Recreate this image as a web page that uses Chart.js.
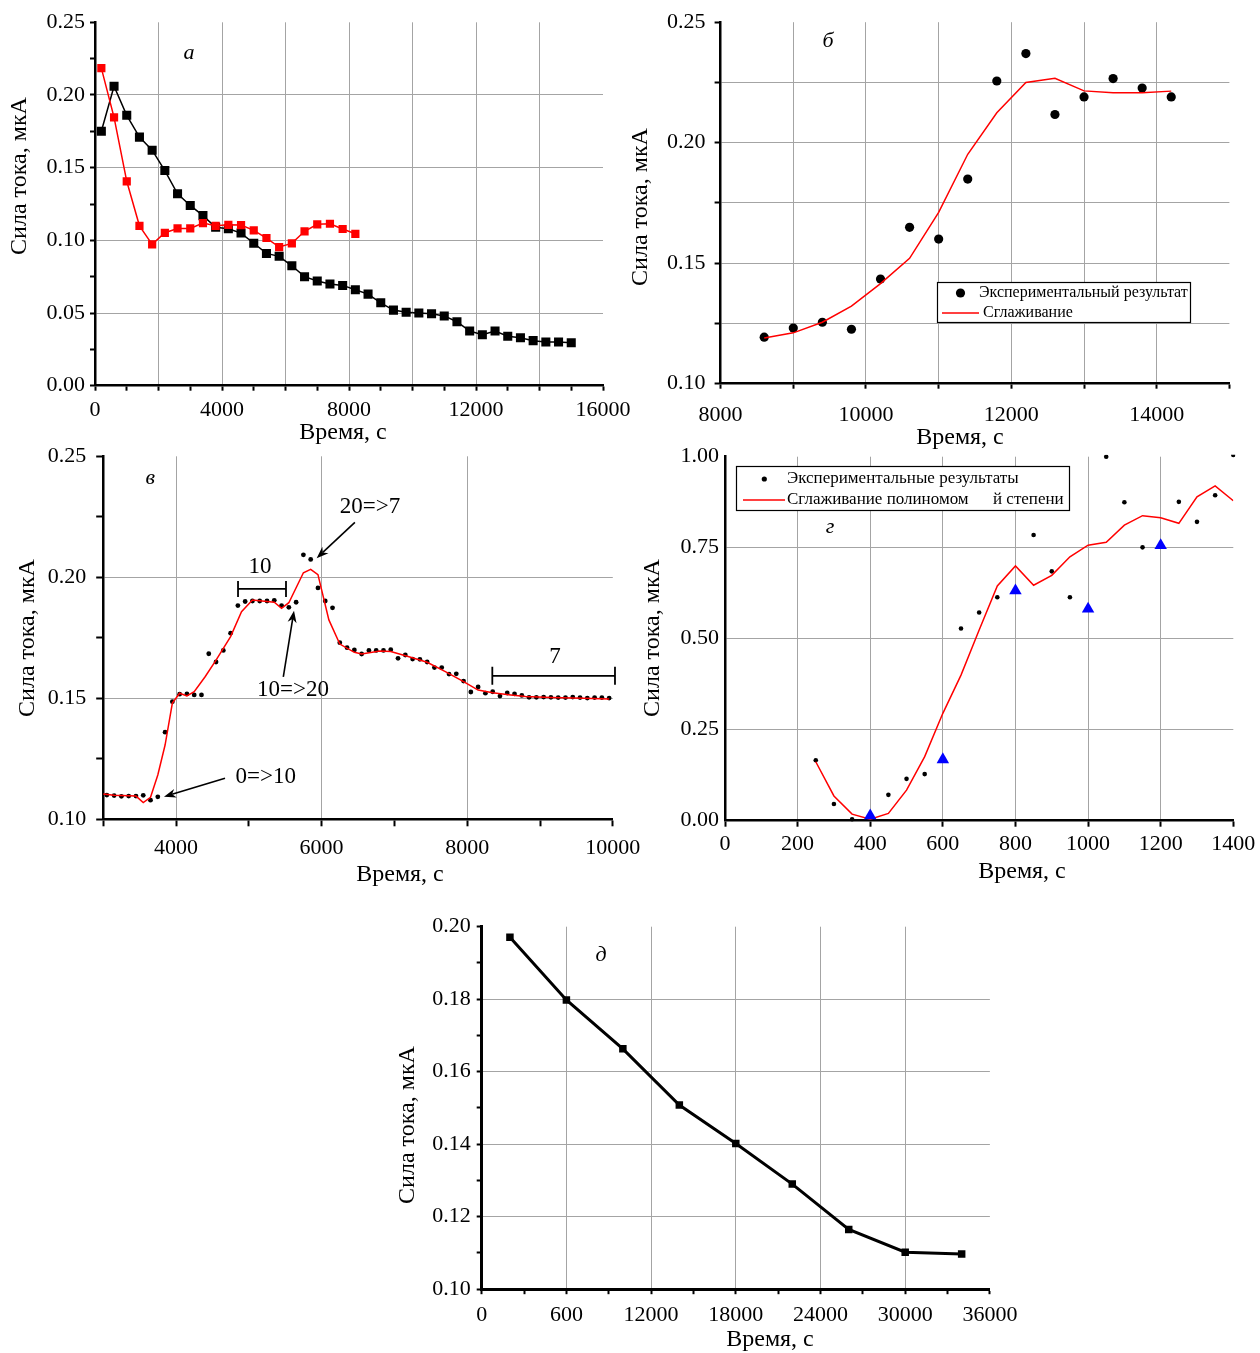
<!DOCTYPE html>
<html>
<head>
<meta charset="utf-8">
<script src="https://cdn.jsdelivr.net/npm/chart.js@4.4.1/dist/chart.umd.min.js"></script>
<style>
  html, body { margin: 0; padding: 0; background: #fff; }
  #page { position: relative; width: 1260px; height: 1353px; }
  #page canvas { position: absolute; left: 0; top: 0; }
</style>
</head>
<body>
<div id="page">
  <canvas id="chA" width="1260" height="1353"></canvas>
  <canvas id="chB" width="1260" height="1353"></canvas>
  <canvas id="chV" width="1260" height="1353"></canvas>
  <canvas id="chG" width="1260" height="1353"></canvas>
  <canvas id="chD" width="1260" height="1353"></canvas>
</div>
<script>
// ---- panel а ----
var aTime = [200, 600, 1000, 1400, 1800, 2200, 2600, 3000, 3400, 3800, 4200, 4600, 5000, 5400, 5800, 6200, 6600, 7000, 7400,
             7800, 8200, 8600, 9000, 9400, 9800, 10200, 10600, 11000, 11400, 11800, 12200, 12600, 13000, 13400, 13800, 14200, 14600, 15000];
var aBlack = [0.175, 0.206, 0.186, 0.171, 0.162, 0.148, 0.132, 0.124, 0.117, 0.109, 0.108, 0.105, 0.098, 0.091, 0.089, 0.0825, 0.075, 0.072, 0.070,
              0.069, 0.066, 0.063, 0.057, 0.052, 0.0505, 0.050, 0.0495, 0.048, 0.044, 0.0376, 0.035, 0.0376, 0.034, 0.033, 0.031, 0.030, 0.030, 0.0296];
var aRedTime = [200, 600, 1000, 1400, 1800, 2200, 2600, 3000, 3400, 3800, 4200, 4600, 5000, 5400, 5800, 6200, 6600, 7000, 7400, 7800, 8200];
var aRed = [0.2185, 0.1846, 0.1406, 0.110, 0.0972, 0.1052, 0.1082, 0.1082, 0.1119, 0.110, 0.1107, 0.1105, 0.1069, 0.1016, 0.0954, 0.0979,
            0.1062, 0.111, 0.1114, 0.1078, 0.1045];

// ---- panel б ----
var bTime = [8600, 9000, 9400, 9800, 10200, 10600, 11000, 11400, 11800, 12200, 12600, 13000, 13400, 13800, 14200];
var bExp = [0.1193, 0.1231, 0.1255, 0.1226, 0.1434, 0.1649, 0.160, 0.1849, 0.2256, 0.237, 0.2117, 0.219, 0.2266, 0.2227, 0.219];
var bSmooth = [0.119, 0.1211, 0.1255, 0.1322, 0.1415, 0.152, 0.1711, 0.1952, 0.2124, 0.2250, 0.2267, 0.2215, 0.2207, 0.2207, 0.2214];

// ---- panel в ----
var vTime = [3050, 3150, 3250, 3350, 3450, 3550, 3650, 3750, 3850, 3950, 4050, 4150, 4250, 4350, 4450, 4550, 4650, 4750, 4850, 4950,
             5050, 5150, 5250, 5350, 5450, 5550, 5650, 5750, 5850, 5950, 6050, 6150, 6250, 6350, 6450, 6550, 6650, 6750, 6850, 6950,
             7050, 7150, 7250, 7350, 7450, 7550, 7650, 7750, 7850, 7950, 8050, 8150, 8250, 8350, 8450, 8550, 8650, 8750, 8850, 8950,
             9050, 9150, 9250, 9350, 9450, 9550, 9650, 9750, 9850, 9950];
var vExp = [0.110, 0.1098, 0.1095, 0.1096, 0.1096, 0.1099, 0.1079, 0.1093, 0.136, 0.1486, 0.1517, 0.1518, 0.1514, 0.1514, 0.1684, 0.165, 0.1698, 0.1769, 0.1883, 0.190,
            0.1902, 0.1902, 0.1902, 0.1905, 0.1883, 0.1876, 0.1897, 0.2093, 0.2074, 0.1956, 0.1902, 0.1874, 0.173, 0.1709, 0.170, 0.1683, 0.1698, 0.1698, 0.1698, 0.1701,
            0.1665, 0.1679, 0.1662, 0.1661, 0.165, 0.1627, 0.1627, 0.160, 0.1601, 0.1571, 0.1526, 0.1547, 0.1521, 0.1527, 0.1509, 0.1522, 0.1518, 0.1512, 0.1504, 0.1504,
            0.1505, 0.1504, 0.1503, 0.1503, 0.1505, 0.1503, 0.1501, 0.1503, 0.1503, 0.1501];
var vSmoothTime = [3000, 3150, 3450, 3550, 3650, 3750, 3850, 3950, 4050, 4150, 4250, 4400, 4550, 4750, 4900, 5050, 5350, 5450, 5550, 5750,
                   5850, 5950, 6100, 6250, 6450, 6550, 6800, 6950, 7200, 7450, 7700, 7950, 8150, 8350, 8600, 8800, 9150, 9600, 9950];
var vSmooth = [0.1105, 0.1099, 0.1096, 0.1069, 0.1091, 0.1183, 0.1307, 0.148, 0.1521, 0.151, 0.1527, 0.1589, 0.1658, 0.1755, 0.1858, 0.1906, 0.1897, 0.1872, 0.1895, 0.2019,
               0.2033, 0.2011, 0.1824, 0.1724, 0.169, 0.1683, 0.1695, 0.1693, 0.1672, 0.1649, 0.161, 0.1569, 0.1534, 0.1523, 0.1514, 0.1507, 0.1503, 0.150, 0.1497];

// ---- panel г ----
var gDotTime = [250, 300, 350, 450, 500, 550, 650, 700, 750, 850, 900, 950, 1050, 1100, 1150, 1250, 1300, 1350, 1400];
var gDot = [0.166, 0.046, 0.004, 0.071, 0.115, 0.128, 0.528, 0.572, 0.614, 0.785, 0.685, 0.614, 1.0, 0.875, 0.751, 0.876, 0.821, 0.894, 1.005];
var gTriTime = [400, 600, 800, 1000, 1200];
var gTri = [0.014, 0.168, 0.632, 0.582, 0.756];
var gSmoothTime = [250, 300, 350, 400, 450, 500, 550, 600, 650, 700, 750, 800, 850, 900, 950, 1000, 1050, 1100, 1150, 1200, 1250, 1300, 1350, 1400];
var gSmooth = [0.162, 0.068, 0.018, 0.004, 0.020, 0.084, 0.176, 0.295, 0.40, 0.524, 0.645, 0.70, 0.647, 0.674, 0.725, 0.757, 0.765, 0.812, 0.838, 0.832,
               0.817, 0.89, 0.92, 0.879];

// ---- panel д ----
var dTime = [2000, 6000, 10000, 14000, 18000, 22000, 26000, 30000, 34000];
var dVal = [0.1971, 0.1798, 0.1663, 0.1508, 0.1402, 0.129, 0.1165, 0.1102, 0.1097];

var FONT = '"Liberation Serif", "Times New Roman", serif';
var GRID = '#a4a4a4';
var Y_TITLE = 'Сила тока, мкА';
var X_TITLE = 'Время, с';

function pts(xs, ys){ return xs.map(function(x, i){ return { x: x, y: ys[i] }; }); }
function on(v, step){ var q = v / step; return Math.abs(q - Math.round(q)) < 1e-6; }
function same(a, b){ return Math.abs(a - b) < 1e-9; }

function axis(o){
  return {
    type: 'linear', min: o.min, max: o.max,
    ticks: {
      stepSize: o.step, autoSkip: false, maxRotation: 0, padding: o.pad, color: '#000',
      font: { family: FONT, size: 22 },
      callback: function(v){
        if (!on(v, o.labelStep)) return '';
        return o.fmt ? o.fmt(v) : String(v);
      }
    },
    grid: {
      color: function(c){
        var v = c.tick ? c.tick.value : undefined;
        if (v === undefined || same(v, o.max) || same(v, o.min) || !on(v, o.gridStep)) return 'rgba(0,0,0,0)';
        return GRID;
      },
      lineWidth: 1, tickColor: '#000', tickWidth: 2, tickLength: o.tickLen, drawTicks: o.tickLen > 0
    },
    border: { color: '#000', width: o.bw || 2.5 },
    afterFit: function(s){ if (s.isHorizontal()) s.height = 40; else s.width = 60; }
  };
}

function fix2(v){ return v.toFixed(2); }

function arrow(ctx, x1, y1, x2, y2){
  var a = Math.atan2(y2 - y1, x2 - x1), L = 12, W = 4.5;
  ctx.beginPath();
  ctx.moveTo(x1, y1);
  ctx.lineTo(x2 - Math.cos(a) * L * 0.7, y2 - Math.sin(a) * L * 0.7);
  ctx.lineWidth = 1.6; ctx.strokeStyle = '#000'; ctx.stroke();
  ctx.beginPath();
  ctx.moveTo(x2, y2);
  ctx.lineTo(x2 - Math.cos(a) * L + Math.sin(a) * W, y2 - Math.sin(a) * L - Math.cos(a) * W);
  ctx.lineTo(x2 - Math.cos(a) * L * 0.7, y2 - Math.sin(a) * L * 0.7);
  ctx.lineTo(x2 - Math.cos(a) * L - Math.sin(a) * W, y2 - Math.sin(a) * L + Math.cos(a) * W);
  ctx.closePath(); ctx.fillStyle = '#000'; ctx.fill();
}

// draws titles, panel letters, notes and legends
function notes(items){
  return {
    id: 'notes',
    afterDatasetsDraw: function(chart){
      var ctx = chart.ctx, xs = chart.scales.x, ys = chart.scales.y;
      function X(v){ return xs.getPixelForValue(v); }
      function Y(v){ return ys.getPixelForValue(v); }
      ctx.save();
      items.forEach(function(it){
        ctx.fillStyle = '#000'; ctx.strokeStyle = '#000';
        if (it.t === 'text' || it.t === 'ytitle' || it.t === 'xtitle' || it.t === 'letter'){
          var px = it.data ? X(it.x) : it.x, py = it.data ? Y(it.y) : it.y;
          ctx.font = (it.t === 'letter' ? 'italic ' : '') + (it.size || 22) + 'px ' + FONT;
          ctx.textAlign = it.align || 'center'; ctx.textBaseline = 'middle';
          if (it.t === 'ytitle'){
            ctx.save(); ctx.translate(px, py); ctx.rotate(-Math.PI / 2);
            ctx.fillText(it.s, 0, 0); ctx.restore();
          } else ctx.fillText(it.s, px, py);
        } else if (it.t === 'arrow'){
          arrow(ctx, X(it.x1), Y(it.y1), X(it.x2), Y(it.y2));
        } else if (it.t === 'bracket'){
          var x1 = X(it.x1), x2 = X(it.x2), y = Y(it.y);
          ctx.lineWidth = 1.8; ctx.beginPath();
          ctx.moveTo(x1, y); ctx.lineTo(x2, y);
          ctx.moveTo(x1, y - it.h); ctx.lineTo(x1, y + it.h);
          ctx.moveTo(x2, y - it.h); ctx.lineTo(x2, y + it.h);
          ctx.stroke();
        } else if (it.t === 'legend'){
          ctx.fillStyle = '#fff'; ctx.fillRect(it.box[0], it.box[1], it.box[2], it.box[3]);
          ctx.lineWidth = 1.2; ctx.strokeStyle = '#000';
          ctx.strokeRect(it.box[0] + 0.5, it.box[1] + 0.5, it.box[2], it.box[3]);
          ctx.font = it.size + 'px ' + FONT; ctx.textAlign = 'left'; ctx.textBaseline = 'middle';
          it.rows.forEach(function(r){
            if (r.kind === 'dot'){
              ctx.fillStyle = '#000'; ctx.beginPath(); ctx.arc(r.mx, r.y, r.r, 0, Math.PI * 2); ctx.fill();
            } else {
              ctx.strokeStyle = '#ff0000'; ctx.lineWidth = 1.6; ctx.beginPath();
              ctx.moveTo(r.mx, r.y); ctx.lineTo(r.mx2, r.y); ctx.stroke();
            }
            ctx.fillStyle = '#000';
            r.texts.forEach(function(tx){ ctx.fillText(tx[0], tx[1], r.y); });
          });
        }
      });
      ctx.restore();
    }
  };
}

function layout(L, T, R, B){
  return { padding: { left: L - 60, top: T, right: 1260 - R, bottom: 1353 - B - 40 } };
}

function make(id, area, xAx, yAx, datasets, items){
  return new Chart(document.getElementById(id), {
    type: 'scatter',
    data: { datasets: datasets },
    options: {
      responsive: false, animation: false, devicePixelRatio: 1, events: [],
      layout: layout(area[0], area[1], area[2], area[3]),
      scales: { x: axis(xAx), y: axis(yAx) },
      plugins: { legend: { display: false }, tooltip: { enabled: false } }
    },
    plugins: [notes(items)]
  });
}

// а
make('chA', [95, 22.3, 603, 385.7],
  { min: 0, max: 16000, step: 1000, gridStep: 2000, labelStep: 4000, tickLen: 5, pad: 6 },
  { min: 0, max: 0.25, step: 0.025, gridStep: 0.05, labelStep: 0.05, fmt: fix2, tickLen: 5, pad: 5 },
  [
    { data: pts(aRedTime, aRed), showLine: true, borderColor: '#ff0000', backgroundColor: '#ff0000', borderWidth: 1.5,
      pointStyle: 'rect', pointRadius: 5.8, pointBorderWidth: 0 },
    { data: pts(aTime, aBlack), showLine: true, borderColor: '#000', backgroundColor: '#000', borderWidth: 1.5,
      pointStyle: 'rect', pointRadius: 6.4, pointBorderWidth: 0 }
  ],
  [
    { t: 'ytitle', s: Y_TITLE, x: 20, y: 176, size: 24 },
    { t: 'xtitle', s: X_TITLE, x: 343, y: 433, size: 24 },
    { t: 'letter', s: 'а', data: true, x: 2961, y: 0.229 }
  ]);

// б
make('chB', [720.6, 20.7, 1229.4, 383.7],
  { min: 8000, max: 15000, step: 1000, gridStep: 1000, labelStep: 2000, tickLen: 5, pad: 13 },
  { min: 0.10, max: 0.25, step: 0.025, gridStep: 0.025, labelStep: 0.05, fmt: fix2, tickLen: 6, pad: 9 },
  [
    { data: pts(bTime, bSmooth), showLine: true, borderColor: '#ff0000', borderWidth: 1.5, pointRadius: 0 },
    { data: pts(bTime, bExp), showLine: false, backgroundColor: '#000', pointStyle: 'circle', pointRadius: 4.6, pointBorderWidth: 0 }
  ],
  [
    { t: 'ytitle', s: Y_TITLE, x: 641, y: 207, size: 24 },
    { t: 'xtitle', s: X_TITLE, x: 960, y: 438, size: 24 },
    { t: 'letter', s: 'б', data: true, x: 9477, y: 0.242 },
    { t: 'legend', box: [937, 282, 253, 40], size: 16, rows: [
      { kind: 'dot', mx: 960.5, r: 4.6, y: 293, texts: [['Экспериментальный результат', 979]] },
      { kind: 'line', mx: 942, mx2: 979, y: 313, texts: [['Сглаживание', 983]] }
    ] }
  ]);

// в
make('chV', [103.2, 456.3, 612.8, 819.3],
  { min: 3000, max: 10000, step: 1000, gridStep: 2000, labelStep: 2000, tickLen: 7, pad: 9 },
  { min: 0.10, max: 0.25, step: 0.025, gridStep: 0.05, labelStep: 0.05, fmt: fix2, tickLen: 7, pad: 10 },
  [
    { data: pts(vSmoothTime, vSmooth), showLine: true, borderColor: '#ff0000', borderWidth: 1.5, pointRadius: 0 },
    { data: pts(vTime, vExp), showLine: false, backgroundColor: '#000', pointStyle: 'circle', pointRadius: 2.4, pointBorderWidth: 0 }
  ],
  [
    { t: 'ytitle', s: Y_TITLE, x: 28, y: 638, size: 24 },
    { t: 'xtitle', s: X_TITLE, x: 400, y: 875, size: 24 },
    { t: 'letter', s: 'в', data: true, x: 3645, y: 0.241 },
    { t: 'bracket', x1: 4852, x2: 5511, y: 0.1952, h: 8 },
    { t: 'text', s: '10', data: true, x: 5154, y: 0.2043, size: 23 },
    { t: 'text', s: '20=>7', data: true, x: 6665, y: 0.229, size: 23 },
    { t: 'arrow', x1: 6457, y1: 0.2227, x2: 5932, y2: 0.2079 },
    { t: 'text', s: '10=>20', data: true, x: 5607, y: 0.1535, size: 23 },
    { t: 'arrow', x1: 5474, y1: 0.1589, x2: 5621, y2: 0.1862 },
    { t: 'text', s: '0=>10', data: true, x: 5233, y: 0.1174, size: 23 },
    { t: 'arrow', x1: 4673, y1: 0.117, x2: 3835, y2: 0.1093 },
    { t: 'text', s: '7', data: true, x: 9206, y: 0.1672, size: 23 },
    { t: 'bracket', x1: 8345, x2: 10030, y: 0.1593, h: 9 }
  ]);

// г
make('chG', [725, 456.7, 1233.3, 820.7],
  { min: 0, max: 1400, step: 200, gridStep: 200, labelStep: 200, tickLen: 6, pad: 4 },
  { min: 0, max: 1, step: 0.25, gridStep: 0.25, labelStep: 0.25, fmt: fix2, tickLen: 0, pad: 6 },
  [
    { data: pts(gTriTime, gTri), showLine: false, backgroundColor: '#0000ff', pointStyle: 'triangle', pointRadius: 7.2, pointBorderWidth: 0 },
    { data: pts(gSmoothTime, gSmooth), showLine: true, borderColor: '#ff0000', borderWidth: 1.5, pointRadius: 0 },
    { data: pts(gDotTime, gDot), showLine: false, backgroundColor: '#000', pointStyle: 'circle', pointRadius: 2.3, pointBorderWidth: 0, clip: 2 }
  ],
  [
    { t: 'ytitle', s: Y_TITLE, x: 653, y: 638, size: 24 },
    { t: 'xtitle', s: X_TITLE, x: 1022, y: 872, size: 24 },
    { t: 'letter', s: 'г', data: true, x: 289, y: 0.807 },
    { t: 'legend', box: [736, 466, 333, 44], size: 17, rows: [
      { kind: 'dot', mx: 764.3, r: 2.6, y: 479, texts: [['Экспериментальные результаты', 787]] },
      { kind: 'line', mx: 743, mx2: 785, y: 500, texts: [['Сглаживание полиномом', 787], ['й степени', 993]] }
    ] }
  ]);

// д
make('chD', [481.7, 926.7, 989.9, 1289.2],
  { min: 0, max: 36000, step: 3000, gridStep: 6000, labelStep: 6000, tickLen: 5, pad: 8, bw: 3,
    fmt: function(v){ return v === 6000 ? '600' : String(v); } },
  { min: 0.10, max: 0.20, step: 0.01, gridStep: 0.02, labelStep: 0.02, fmt: fix2, tickLen: 5, pad: 6, bw: 3 },
  [
    { data: pts(dTime, dVal), showLine: true, borderColor: '#000', backgroundColor: '#000', borderWidth: 3,
      pointStyle: 'rect', pointRadius: 5.3, pointBorderWidth: 0 }
  ],
  [
    { t: 'ytitle', s: Y_TITLE, x: 408, y: 1125, size: 24 },
    { t: 'xtitle', s: X_TITLE, x: 770, y: 1340, size: 24 },
    { t: 'letter', s: 'д', data: true, x: 8451, y: 0.1922 }
  ]);
</script>
</body>
</html>
